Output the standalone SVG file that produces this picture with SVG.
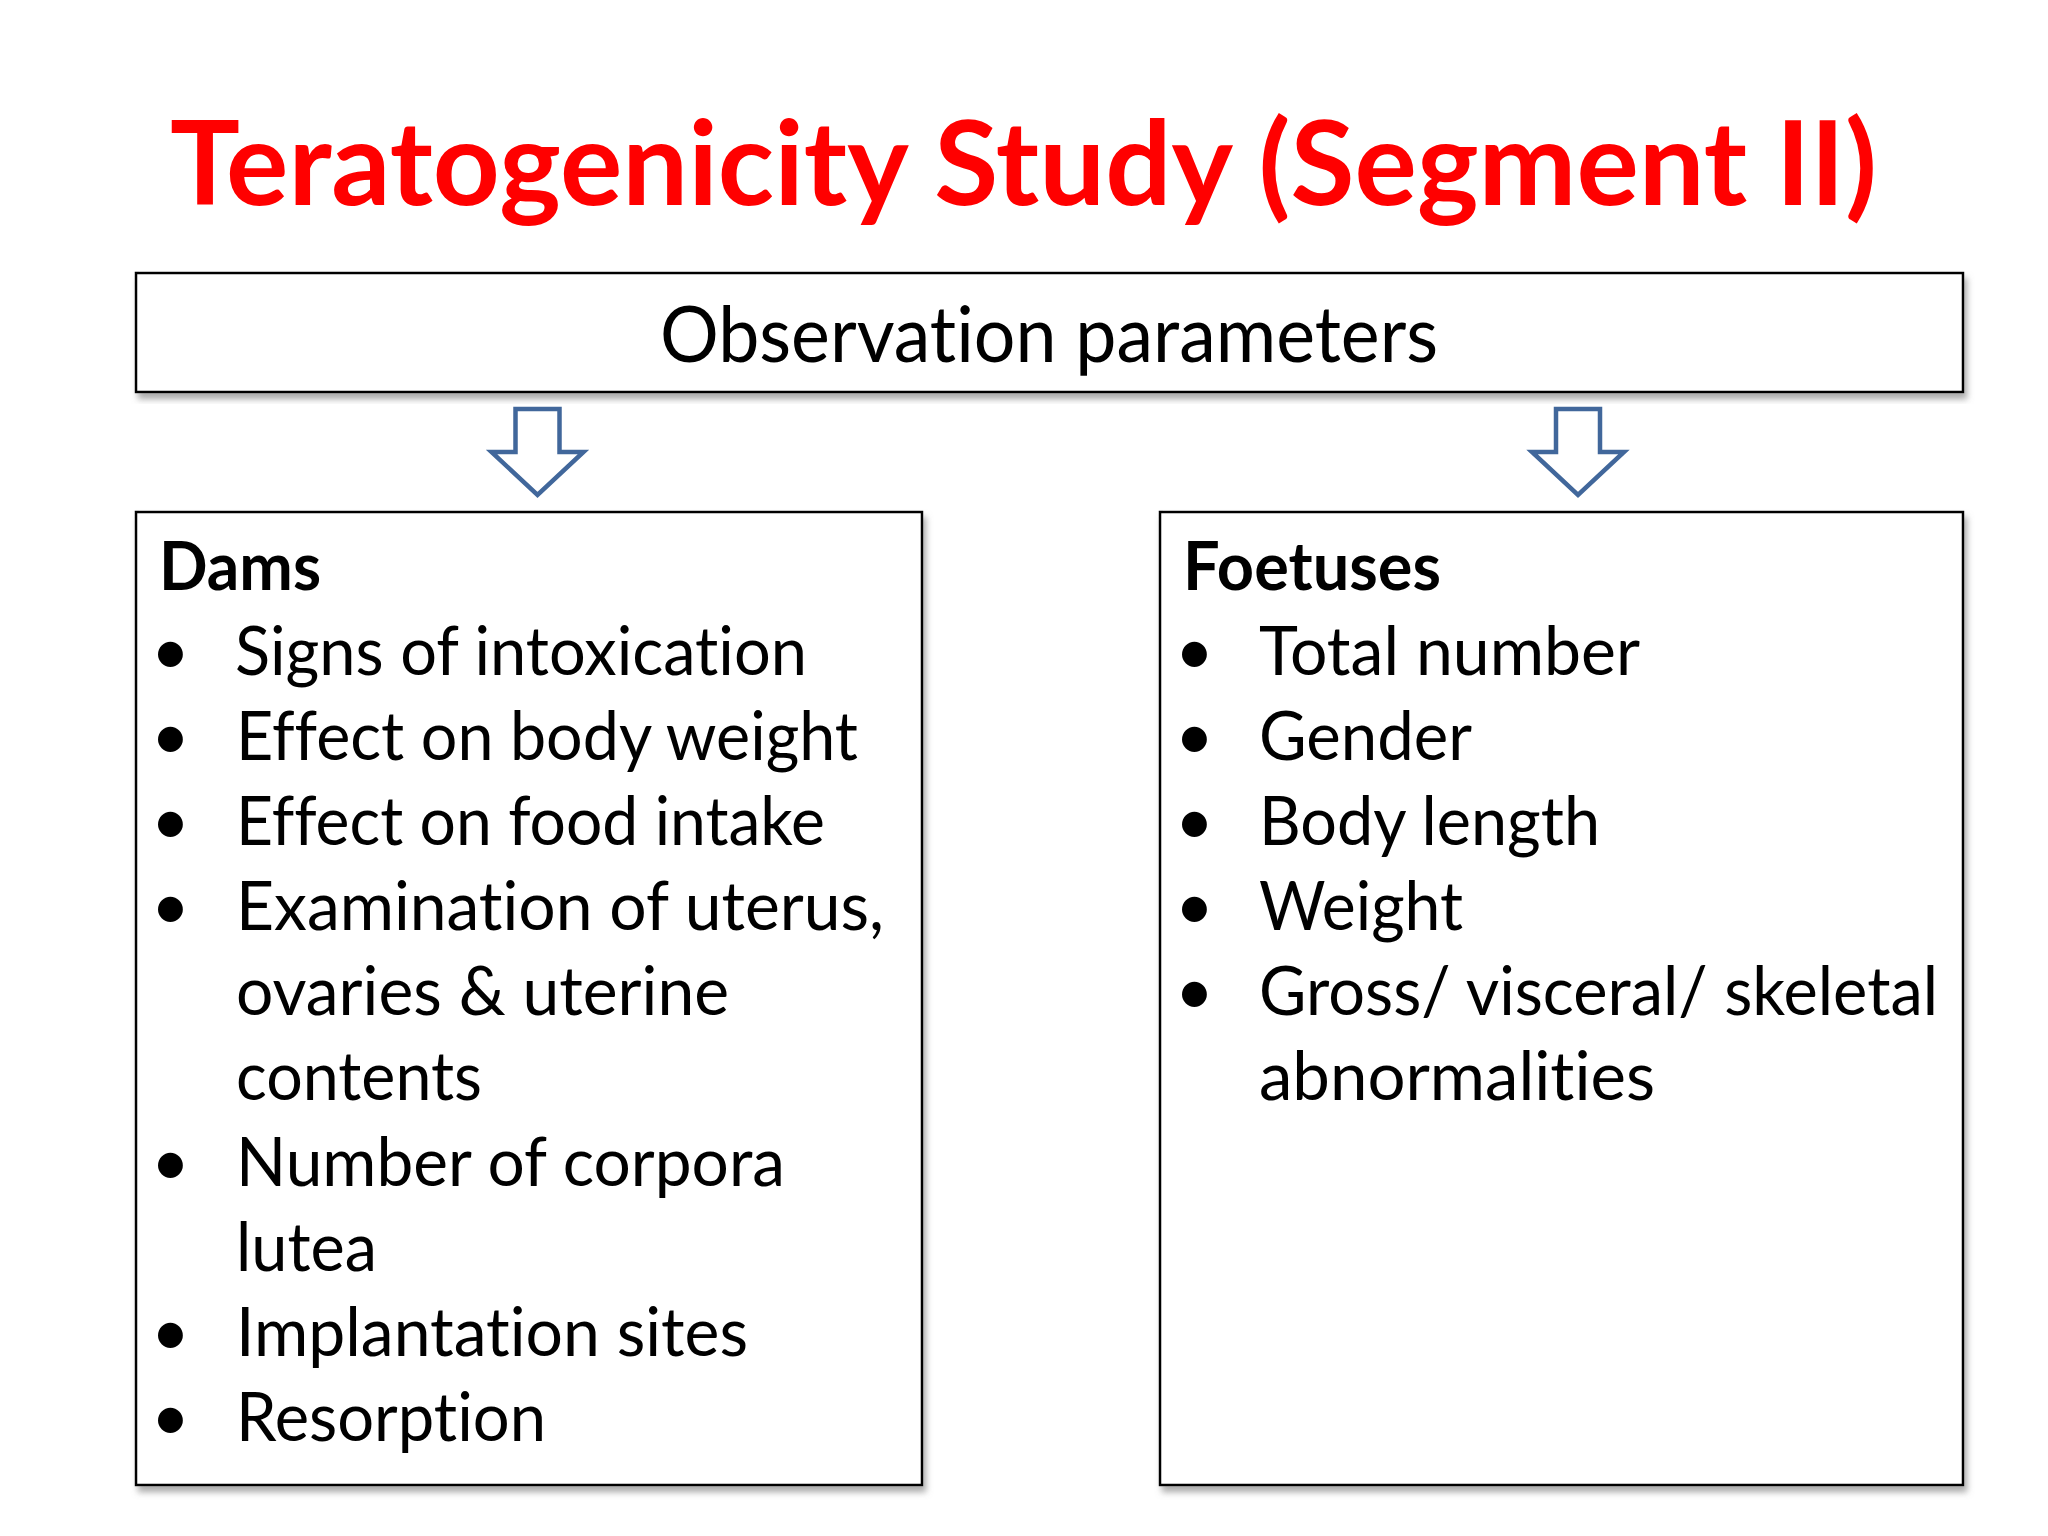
<svg xmlns="http://www.w3.org/2000/svg" width="2048" height="1536" viewBox="0 0 2048 1536">
<defs>
<filter id="sh" x="-5%" y="-5%" width="110%" height="115%">
<feDropShadow dx="3" dy="6" stdDeviation="3" flood-color="#808080" flood-opacity="0.65"/>
</filter>
</defs>
<style>
.box{fill:#fff;stroke:#000;stroke-width:2.5;filter:url(#sh)}
.t{font-family:Lato,"Open Sans","Liberation Sans",sans-serif;fill:#000;font-variant-ligatures:none;font-feature-settings:"liga" 0,"dlig" 0}
.b{font-size:67px}
.h{font-size:67px;font-weight:bold}
.arr{fill:#fff;stroke:#41679B;stroke-width:4.5;stroke-linejoin:miter}
</style>
<rect width="2048" height="1536" fill="#fff"/>
<g id="title">
<text class="t" x="170" y="205" font-size="117" font-weight="bold" style="fill:#FF0000" textLength="1707" lengthAdjust="spacingAndGlyphs">Teratogenicity Study (Segment II)</text>
</g>
<g id="observation">
<rect class="box" x="136" y="273" width="1827" height="119"/>
<text class="t" x="660" y="362" font-size="78" textLength="778" lengthAdjust="spacingAndGlyphs">Observation parameters</text>
</g>
<g id="connectors">
<path class="arr" d="M515.5 409 H559.5 V452 H583.5 L537.5 495 L491.5 452 H515.5 Z"/>
<path class="arr" d="M1556 409 H1600 V452 H1624 L1578 495 L1532 452 H1556 Z"/>
</g>
<g id="dams">
<rect class="box" x="136" y="512" width="786" height="973"/>
<text class="t h" x="159" y="590" textLength="162" lengthAdjust="spacingAndGlyphs">Dams</text>
<g class="t b">
<text x="151" y="675">•</text>
<text x="151" y="760">•</text>
<text x="151" y="845">•</text>
<text x="151" y="930">•</text>
<text x="151" y="1186">•</text>
<text x="151" y="1356">•</text>
<text x="151" y="1441">•</text>
<text x="235" y="675" textLength="572" lengthAdjust="spacingAndGlyphs">Signs of intoxication</text>
<text x="236" y="760" textLength="622" lengthAdjust="spacingAndGlyphs">Effect on body weight</text>
<text x="236" y="845" textLength="589" lengthAdjust="spacingAndGlyphs">Effect on food intake</text>
<text x="236" y="930" textLength="648" lengthAdjust="spacingAndGlyphs">Examination of uterus,</text>
<text x="236" y="1015" textLength="493" lengthAdjust="spacingAndGlyphs">ovaries &amp; uterine</text>
<text x="236" y="1100" textLength="246" lengthAdjust="spacingAndGlyphs">contents</text>
<text x="236" y="1186" textLength="549" lengthAdjust="spacingAndGlyphs">Number of corpora</text>
<text x="236" y="1271" textLength="141" lengthAdjust="spacingAndGlyphs">lutea</text>
<text x="236" y="1356" textLength="512" lengthAdjust="spacingAndGlyphs">Implantation sites</text>
<text x="236" y="1441" textLength="310" lengthAdjust="spacingAndGlyphs">Resorption</text>
</g>
</g>
<g id="foetuses">
<rect class="box" x="1160" y="512" width="803" height="973"/>
<text class="t h" x="1183" y="590" textLength="258" lengthAdjust="spacingAndGlyphs">Foetuses</text>
<g class="t b">
<text x="1175" y="675">•</text>
<text x="1175" y="760">•</text>
<text x="1175" y="845">•</text>
<text x="1175" y="930">•</text>
<text x="1175" y="1015">•</text>
<text x="1259" y="675" textLength="381" lengthAdjust="spacingAndGlyphs">Total number</text>
<text x="1259" y="760" textLength="213" lengthAdjust="spacingAndGlyphs">Gender</text>
<text x="1259" y="845" textLength="341" lengthAdjust="spacingAndGlyphs">Body length</text>
<text x="1259" y="930" textLength="204" lengthAdjust="spacingAndGlyphs">Weight</text>
<text x="1259" y="1015" textLength="679" lengthAdjust="spacingAndGlyphs">Gross/ visceral/ skeletal</text>
<text x="1259" y="1100" textLength="396" lengthAdjust="spacingAndGlyphs">abnormalities</text>
</g>
</g>
</svg>
